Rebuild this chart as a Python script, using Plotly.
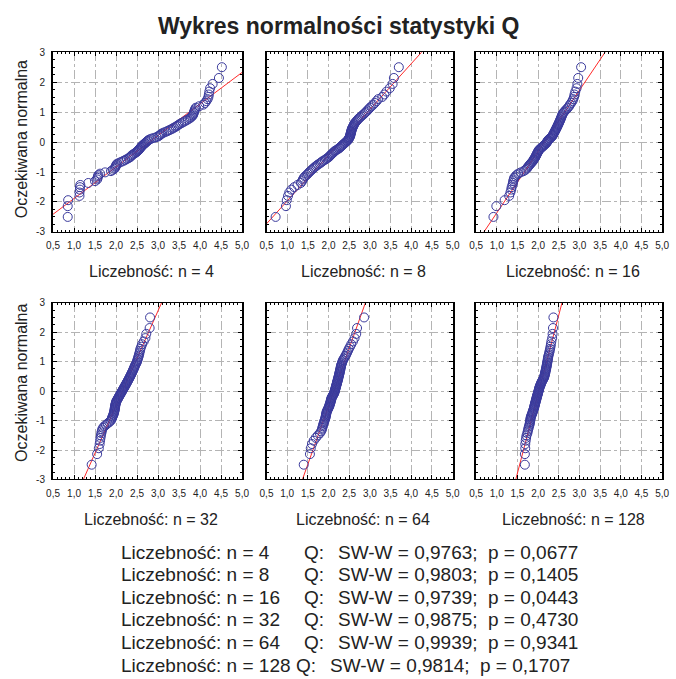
import plotly.graph_objects as go
from statistics import NormalDist, mean, stdev

# Sample sizes behind each Q statistic panel
sizes = [4, 8, 16, 32, 64, 128]

# Sorted values of the Q statistic (100 replications per sample size)
q_n4 = [0.85, 0.85, 0.86, 1.13, 1.13, 1.14, 1.14, 1.15, 1.34, 1.50,
        1.55, 1.56, 1.57, 1.58, 1.62, 1.74, 1.88, 1.92, 1.96, 1.98,
        1.99, 2.00, 2.01, 2.03, 2.08, 2.13, 2.18, 2.22, 2.26, 2.30,
        2.33, 2.35, 2.37, 2.39, 2.42, 2.45, 2.48, 2.50, 2.52, 2.54,
        2.55, 2.57, 2.58, 2.60, 2.61, 2.63, 2.65, 2.67, 2.69, 2.71,
        2.73, 2.75, 2.77, 2.80, 2.84, 2.90, 2.96, 3.00, 3.03, 3.05,
        3.07, 3.10, 3.14, 3.19, 3.23, 3.27, 3.31, 3.35, 3.38, 3.42,
        3.45, 3.48, 3.51, 3.55, 3.59, 3.63, 3.67, 3.71, 3.75, 3.78,
        3.81, 3.83, 3.84, 3.85, 3.86, 3.87, 3.88, 3.90, 3.98, 4.08,
        4.12, 4.15, 4.18, 4.20, 4.21, 4.22, 4.24, 4.30, 4.45, 4.52]

q_n8 = [0.72, 0.97, 0.99, 1.02, 1.05, 1.10, 1.17, 1.25, 1.33, 1.36,
        1.38, 1.40, 1.43, 1.47, 1.50, 1.53, 1.56, 1.59, 1.62, 1.65,
        1.68, 1.71, 1.74, 1.78, 1.81, 1.84, 1.87, 1.91, 1.94, 1.97,
        2.00, 2.02, 2.04, 2.06, 2.08, 2.10, 2.12, 2.14, 2.16, 2.19,
        2.22, 2.25, 2.27, 2.29, 2.31, 2.33, 2.35, 2.37, 2.39, 2.41,
        2.43, 2.45, 2.47, 2.48, 2.49, 2.50, 2.51, 2.52, 2.52, 2.53,
        2.53, 2.54, 2.54, 2.55, 2.55, 2.56, 2.56, 2.57, 2.58, 2.59,
        2.60, 2.61, 2.62, 2.63, 2.65, 2.67, 2.69, 2.71, 2.73, 2.76,
        2.79, 2.82, 2.85, 2.88, 2.91, 2.94, 2.97, 3.00, 3.04, 3.08,
        3.12, 3.16, 3.20, 3.30, 3.35, 3.40, 3.48, 3.55, 3.58, 3.70]

q_n16 = [0.92, 0.99, 1.19, 1.30, 1.33, 1.35, 1.36, 1.38, 1.39, 1.40,
         1.41, 1.42, 1.45, 1.48, 1.52, 1.58, 1.65, 1.69, 1.72, 1.74,
         1.76, 1.78, 1.80, 1.82, 1.84, 1.86, 1.88, 1.89, 1.90, 1.92,
         1.93, 1.94, 1.95, 1.96, 1.97, 1.98, 1.99, 2.00, 2.01, 2.02,
         2.04, 2.06, 2.08, 2.10, 2.12, 2.14, 2.16, 2.18, 2.20, 2.21,
         2.22, 2.23, 2.24, 2.26, 2.28, 2.30, 2.32, 2.34, 2.35, 2.36,
         2.37, 2.38, 2.39, 2.40, 2.41, 2.42, 2.43, 2.44, 2.45, 2.46,
         2.47, 2.48, 2.49, 2.50, 2.51, 2.52, 2.53, 2.54, 2.55, 2.56,
         2.57, 2.58, 2.59, 2.61, 2.63, 2.66, 2.69, 2.72, 2.75, 2.77,
         2.80, 2.83, 2.85, 2.87, 2.88, 2.90, 2.93, 2.95, 2.97, 3.04]

q_n32 = [1.42, 1.55, 1.59, 1.61, 1.62, 1.63, 1.64, 1.65, 1.66, 1.67,
         1.69, 1.72, 1.76, 1.80, 1.84, 1.87, 1.89, 1.90, 1.91, 1.92,
         1.93, 1.94, 1.95, 1.95, 1.96, 1.96, 1.97, 1.97, 1.97, 1.98,
         1.98, 1.98, 1.99, 1.99, 2.00, 2.00, 2.01, 2.02, 2.03, 2.04,
         2.05, 2.06, 2.07, 2.08, 2.09, 2.10, 2.11, 2.12, 2.13, 2.14,
         2.15, 2.16, 2.17, 2.18, 2.19, 2.20, 2.21, 2.22, 2.23, 2.24,
         2.25, 2.26, 2.27, 2.28, 2.29, 2.30, 2.31, 2.32, 2.33, 2.34,
         2.35, 2.36, 2.37, 2.38, 2.39, 2.40, 2.41, 2.42, 2.43, 2.44,
         2.45, 2.46, 2.48, 2.49, 2.50, 2.51, 2.52, 2.53, 2.54, 2.55,
         2.56, 2.57, 2.58, 2.60, 2.62, 2.66, 2.70, 2.72, 2.80, 2.81]

q_n64 = [1.40, 1.55, 1.57, 1.60, 1.64, 1.69, 1.74, 1.79, 1.82, 1.84,
         1.85, 1.86, 1.87, 1.88, 1.89, 1.90, 1.91, 1.92, 1.93, 1.93,
         1.94, 1.94, 1.95, 1.95, 1.96, 1.97, 1.98, 1.99, 2.00, 2.01,
         2.02, 2.02, 2.03, 2.04, 2.04, 2.05, 2.05, 2.06, 2.06, 2.07,
         2.07, 2.08, 2.09, 2.10, 2.11, 2.12, 2.13, 2.14, 2.14, 2.15,
         2.15, 2.16, 2.16, 2.17, 2.17, 2.18, 2.18, 2.19, 2.19, 2.20,
         2.20, 2.21, 2.21, 2.22, 2.22, 2.23, 2.23, 2.24, 2.24, 2.25,
         2.25, 2.26, 2.26, 2.27, 2.27, 2.28, 2.28, 2.29, 2.29, 2.30,
         2.30, 2.31, 2.32, 2.33, 2.34, 2.35, 2.37, 2.39, 2.41, 2.43,
         2.45, 2.47, 2.49, 2.52, 2.55, 2.59, 2.63, 2.67, 2.69, 2.86]

q_n128 = [1.68, 1.68, 1.69, 1.69, 1.70, 1.71, 1.72, 1.74, 1.75, 1.76,
          1.77, 1.78, 1.79, 1.80, 1.80, 1.81, 1.81, 1.82, 1.82, 1.83,
          1.84, 1.85, 1.86, 1.87, 1.87, 1.88, 1.89, 1.90, 1.90, 1.91,
          1.91, 1.92, 1.92, 1.93, 1.93, 1.94, 1.94, 1.95, 1.95, 1.96,
          1.96, 1.97, 1.97, 1.98, 1.98, 1.99, 1.99, 2.00, 2.00, 2.01,
          2.01, 2.02, 2.02, 2.03, 2.03, 2.04, 2.04, 2.05, 2.06, 2.07,
          2.07, 2.08, 2.09, 2.10, 2.11, 2.12, 2.13, 2.14, 2.15, 2.15,
          2.16, 2.16, 2.17, 2.17, 2.18, 2.18, 2.19, 2.19, 2.20, 2.20,
          2.21, 2.21, 2.22, 2.22, 2.23, 2.23, 2.24, 2.24, 2.25, 2.26,
          2.27, 2.28, 2.29, 2.30, 2.31, 2.32, 2.34, 2.35, 2.36, 2.37]

q_samples = [q_n4, q_n8, q_n16, q_n32, q_n64, q_n128]

# Shapiro-Wilk results for each sample size
sw_w = ["0,9763", "0,9803", "0,9739", "0,9875", "0,9939", "0,9814"]
p_vals = ["0,0677", "0,1405", "0,0443", "0,4730", "0,9341", "0,1707"]

x_ticks = [0.5, 1.0, 1.5, 2.0, 2.5, 3.0, 3.5, 4.0, 4.5, 5.0]
x_tick_labels = ["0,5", "1,0", "1,5", "2,0", "2,5", "3,0", "3,5", "4,0", "4,5", "5,0"]
y_ticks = [-3, -2, -1, 0, 1, 2, 3]
y_tick_labels = ["-3", "-2", "-1", "0", "1", "2", "3"]

title_text = "Wykres normalności statystyki Q"
y_title = "Oczekiwana normalna"
panel_label = "Liczebność: n = {}"

W, H = 676, 679
FONT = "Liberation Sans, Arial, Helvetica, sans-serif"
MARKER = "#3a3a9c"
LINE = "#ff2a2a"

col_px = [(47, 240), (265, 455), (479, 669)]
row_px = [(47, 230), (302, 482)]


def px_x(p):
    return p / W


def px_y(p):
    return 1 - p / H


def expected_normal(n):
    nd = NormalDist()
    return [nd.inv_cdf((i - 0.375) / (n + 0.25)) for i in range(1, n + 1)]


fig = go.Figure()
annotations = []

for k, (n, data) in enumerate(zip(sizes, q_samples)):
    r, c = divmod(k, 3)
    idx = "" if k == 0 else str(k + 1)
    xa, ya = "x" + idx, "y" + idx

    z = expected_normal(len(data))
    m, s = mean(data), stdev(data)
    line_x = [x_ticks[0], x_ticks[-1]]
    line_y = [(v - m) / s for v in line_x]

    fig.add_trace(go.Scatter(
        x=line_x, y=line_y, mode="lines", xaxis=xa, yaxis=ya,
        line=dict(color=LINE, width=1), showlegend=False, hoverinfo="skip"))
    fig.add_trace(go.Scatter(
        x=data, y=z, mode="markers", xaxis=xa, yaxis=ya, showlegend=False,
        marker=dict(symbol="circle-open", size=9, color=MARKER,
                    line=dict(width=1, color=MARKER))))

    x0, x1 = col_px[c]
    y0, y1 = row_px[r]
    common = dict(
        showline=True, linecolor="black", mirror="ticks",
        ticks="inside", ticklen=4, tickwidth=1, tickcolor="black",
        showgrid=True, gridcolor="#b4b4b4", gridwidth=1, griddash="dashdot",
        zeroline=False, tickfont=dict(family=FONT, size=10, color="#222222"),
        fixedrange=True,
    )
    fig.layout["xaxis" + idx] = dict(
        common, domain=[px_x(x0), px_x(x1)], anchor=ya,
        range=[x_ticks[0], x_ticks[-1]], linewidth=1.2,
        tickmode="array", tickvals=x_ticks, ticktext=x_tick_labels,
        ticklabelstandoff=4,
        minor=dict(tickmode="linear", tick0=0.5, dtick=0.1, ticks="inside",
                   ticklen=2, tickcolor="black", showgrid=False),
    )
    fig.layout["yaxis" + idx] = dict(
        common, domain=[px_y(y1), px_y(y0)], anchor=xa,
        range=[y_ticks[0], y_ticks[-1]], linewidth=2,
        tickmode="array", tickvals=y_ticks, ticktext=y_tick_labels,
        showticklabels=(c == 0), ticklabelstandoff=4,
        minor=dict(tickmode="linear", tick0=-3, dtick=0.25, ticks="inside",
                   ticklen=2, tickcolor="black", showgrid=False),
    )

    label_y = 270 if r == 0 else 523
    annotations.append(dict(
        text=panel_label.format(n), xref="paper", yref="paper",
        x=px_x((x0 + x1) / 2 + 4), y=px_y(label_y), showarrow=False,
        xanchor="center", yanchor="middle",
        font=dict(family=FONT, size=16, color="#222222")))

# Row titles on the left
for cy in (136, 384):
    annotations.append(dict(
        text=y_title, xref="paper", yref="paper", x=px_x(15), y=px_y(cy),
        textangle=-90, showarrow=False, xanchor="center", yanchor="middle",
        font=dict(family=FONT, size=16, color="#222222")))

# Summary of the normality tests
line_centres = [556, 579, 602, 625, 648, 671]
for k, (n, w, p) in enumerate(zip(sizes, sw_w, p_vals)):
    shift = -8 if n >= 100 else 0
    cy = px_y(line_centres[k])
    for xpos, txt in ((114, panel_label.format(n)), (301 + shift, "Q:"),
                      (336 + shift, "SW-W = {};".format(w)),
                      (489 + shift, "p = {}".format(p))):
        annotations.append(dict(
            text=txt, xref="paper", yref="paper", x=px_x(xpos), y=cy,
            showarrow=False, xanchor="left", yanchor="middle",
            font=dict(family=FONT, size=19, color="#222222")))

annotations.append(dict(
    text="<b>{}</b>".format(title_text), xref="paper", yref="paper",
    x=px_x(339), y=px_y(20), showarrow=False, xanchor="center", yanchor="middle",
    font=dict(family=FONT, size=23, color="#222222")))

fig.update_layout(
    width=W, height=H, autosize=False,
    margin=dict(l=0, r=0, t=0, b=0),
    paper_bgcolor="white", plot_bgcolor="white",
    annotations=annotations,
)

fig.write_html("out.html")
